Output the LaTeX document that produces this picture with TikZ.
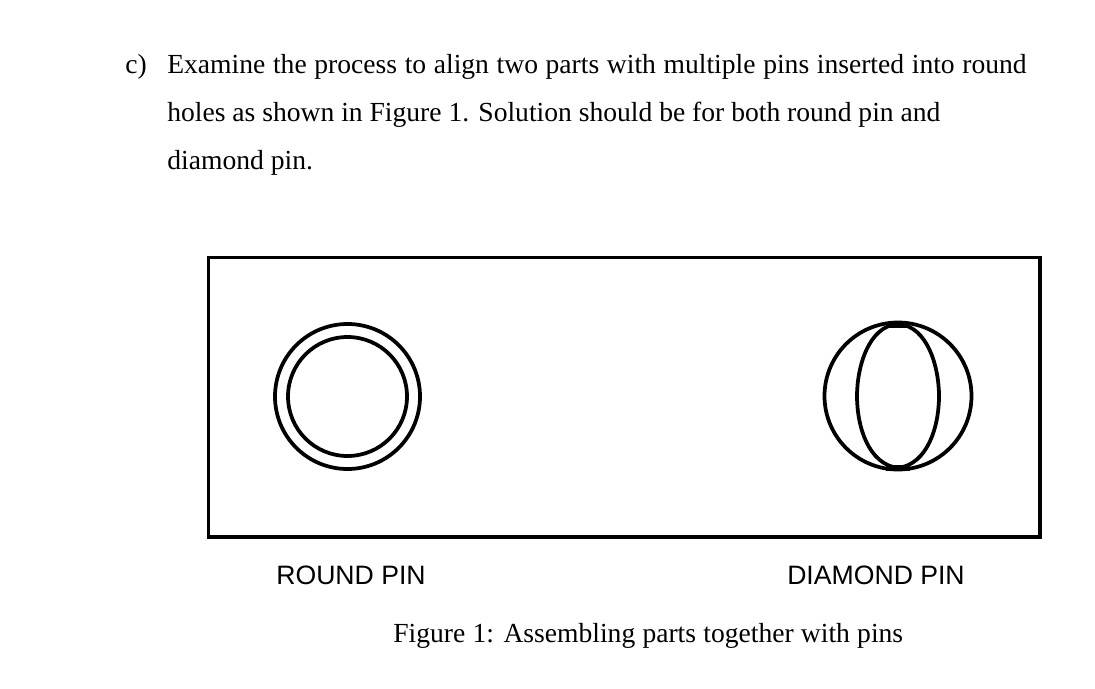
\documentclass[tikz,border=0pt]{standalone}
\usepackage{fontspec}
\setmainfont{Liberation Serif}
\newfontfamily\labelfont{Liberation Sans}
\usetikzlibrary{calc}
\tikzset{
	bodytext/.style={anchor=base west, inner sep=0pt, font=\fontsize{15.7}{18}\selectfont},
	pinlabel/.style={anchor=base, inner sep=0pt, font=\labelfont\fontsize{15.15}{18}\selectfont},
	pinline/.style={line width=0.75mm, color=black}
}
\begin{document}
\begin{tikzpicture}[x=0.02cm, y=-0.02cm]
		%%%%% START %%%%%
		\useasboundingbox (0, 0) rectangle (1095, 689);
		
		\node[bodytext] (item) at (125, 74) {c)};
		\node[bodytext] (lineone) at (167, 74) {\spaceskip=4.35pt Examine the process to align two parts with multiple pins inserted into round};
		\node[bodytext] (linetwo) at (167, 122) {holes as shown in Figure 1. Solution should be for both round pin and};
		\node[bodytext] (linethree) at (167, 170) {diamond pin.};
		
		\draw[line width=0.65mm] (208.5, 257.5) rectangle (1040, 537);
		
		% round pin
		\draw[pinline] (347.5, 396.5) circle (72.5);
		\draw[pinline] (347.5, 396.5) circle (59.5);
		
		% diamond pin
		\draw[pinline] (898, 396) circle (73.5);
		\draw[pinline] (898, 324) .. controls (868, 326) and (857, 368) .. (857, 396)
			.. controls (857, 426) and (868, 464) .. (898, 468)
			.. controls (928, 464) and (939, 426) .. (939, 396)
			.. controls (939, 368) and (928, 326) .. (898, 324) -- cycle;
		\draw[line width=1.2mm] (888, 324.5) -- (908, 324.5);
		\draw[line width=1.2mm] (886, 467.5) -- (910, 467.5);
		
		\node[pinlabel] (roundlabel) at (351, 584) {ROUND PIN};
		\node[pinlabel] (diamondlabel) at (876, 584) {DIAMOND PIN};
		
		\node[bodytext] (caption) at (393, 642) {\spaceskip=4.1pt Figure 1: Assembling parts together with pins};
		%%%%% END %%%%%
	\end{tikzpicture}
\end{document}
